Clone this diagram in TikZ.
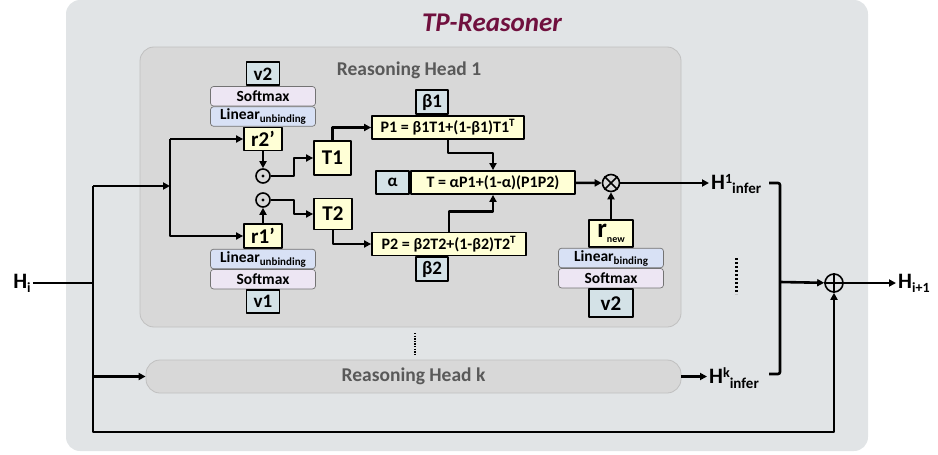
\documentclass[tikz,border=0pt]{standalone}
\usepackage{fontspec}
\setmainfont{Carlito}
\usetikzlibrary{arrows.meta,positioning}

\definecolor{outerbg}{RGB}{225,228,230}
\definecolor{headbg}{RGB}{216,216,216}
\definecolor{headln}{RGB}{192,192,192}
\definecolor{varfill}{RGB}{255,255,214}
\definecolor{parfill}{RGB}{212,226,231}
\definecolor{smaxfill}{RGB}{237,230,243}
\definecolor{linfill}{RGB}{216,225,245}
\definecolor{titlecol}{RGB}{112,16,62}
\definecolor{headtxt}{RGB}{89,89,89}

% small lowered / raised text
\newcommand{\lowsub}[2][11]{\raisebox{-0.4ex}{\fontsize{#1}{#1}\selectfont #2}}
\newcommand{\hisup}[2][13]{\raisebox{0.6ex}{\fontsize{#1}{#1}\selectfont #2}}

\tikzset{
  wire/.style={line width=2.6pt},
  var/.style={draw,line width=1.8pt,fill=varfill,inner sep=0pt,font=\fontsize{21}{21}\selectfont\bfseries},
  par/.style={draw,line width=1.8pt,fill=parfill,inner sep=0pt,font=\fontsize{19}{19}\selectfont\bfseries},
  layer/.style={draw=black!55,line width=0.7pt,rounded corners=3pt,inner sep=0pt,
    minimum width=105pt,minimum height=19.5pt,font=\fontsize{15.5}{15.5}\selectfont\bfseries},
  eqn/.style={draw,line width=1.8pt,fill=varfill,inner sep=0pt,minimum height=23pt,
    font=\fontsize{16}{16}\selectfont\bfseries},
  op/.style={draw,circle,line width=1.6pt,inner sep=0pt},
  headbox/.style={draw=headln,line width=0.8pt,fill=headbg,rounded corners=14pt},
  headname/.style={text=headtxt,font=\fontsize{19.5}{19.5}\selectfont\bfseries},
  hlbl/.style={inner sep=2pt,font=\fontsize{22}{22}\selectfont\bfseries},
}

\begin{document}
\begin{tikzpicture}[x=1pt,y=-1pt,>={Triangle[length=7pt,width=7pt]},line join=round]
\useasboundingbox (0,0) rectangle (938,455);

% panels
\fill[outerbg,rounded corners=14pt] (66,0) rectangle (868,451);
\node[text=titlecol,font=\fontsize{27}{27}\selectfont\bfseries\itshape] (title) at (492,23) {TP-Reasoner};
\node[headbox,minimum width=541pt,minimum height=280pt] (head1) at (410.5,187) {};
\node[headname] (head1name) at (409,70) {Reasoning Head 1};
\node[headbox,headname,minimum width=535pt,minimum height=33pt] (headk) at (413.5,376.5) {Reasoning Head k};
\draw[line width=1.3pt,dash pattern=on 1.3pt off 1.3pt] (415,333) -- (415,356);

% unbinding, top
\node[var,minimum width=38pt,minimum height=23pt] (r2) at (263,139) {r2’};
\node[layer,fill=linfill,above=0pt of r2] (lina) {Linear\lowsub{unbinding}};
\node[layer,fill=smaxfill,above=0pt of lina] (smaxa) {Softmax};
\node[par,minimum width=33pt,minimum height=23pt,above=0pt of smaxa] (v2a) {v2};

% unbinding, bottom
\node[var,minimum width=38pt,minimum height=24pt] (r1) at (263,236) {r1’};
\node[layer,fill=linfill,below=0pt of r1] (linb) {Linear\lowsub{unbinding}};
\node[layer,fill=smaxfill,below=0pt of linb] (smaxb) {Softmax};
\node[par,minimum width=33pt,minimum height=23pt,below=0pt of smaxb] (v1) {v1};

\node[op,minimum size=14pt] (dot2) at (263,176) {};
\node[op,minimum size=14pt] (dot1) at (263,200) {};
\fill (dot2) circle (1.7) (dot1) circle (1.7);

\node[var,minimum width=37pt,minimum height=34pt] (T1) at (332.5,158) {T1};
\node[var,minimum width=38pt,minimum height=31pt] (T2) at (333,214) {T2};

% relation matrices
\node[eqn,minimum width=152pt] (P1) at (448,127.5) {P1 = β1T1+(1-β1)T1\textsuperscript{T}};
\node[par,minimum width=32pt,minimum height=24pt,above=0pt of P1.north,xshift=-16pt] (b1) {β1};
\node[eqn,minimum width=154pt] (P2) at (449,244) {P2 = β2T2+(1-β2)T2\textsuperscript{T}};
\node[par,minimum width=32pt,minimum height=24pt,below=0pt of P2.south,xshift=-17pt] (b2) {β2};
\node[eqn,minimum width=164pt] (T) at (493,182.5) {T = αP1+(1-α)(P1P2)};
\node[par,minimum width=33pt,minimum height=23pt,left=0pt of T,font=\fontsize{17}{17}\selectfont\bfseries] (alpha) {α};

% binding
\node[op,minimum size=17pt] (mul) at (611,183) {};
\draw[line width=1.6pt] (mul.north west) -- (mul.south east) (mul.north east) -- (mul.south west);
\node[var,minimum width=44pt,minimum height=27pt] (rnew) at (611,233.5) {\fontsize{27}{27}\selectfont r\lowsub[10]{new}};
\node[layer,fill=linfill,below=0pt of rnew] (linc) {Linear\lowsub{binding}};
\node[layer,fill=smaxfill,below=0pt of linc] (smaxc) {Softmax};
\node[par,minimum width=44pt,minimum height=28pt,below=0pt of smaxc,font=\fontsize{21}{21}\selectfont\bfseries] (v2b) {v2};

% outputs
\node[hlbl] (Hi) at (22,283) {H\lowsub[14]{i}};
\node[hlbl,anchor=west] (H1) at (709,184) {H\hisup[14]{1}\lowsub[15]{infer}};
\node[hlbl,anchor=west] (Hk) at (707,378) {H\hisup[14]{k}\lowsub[15]{infer}};
\node[op,minimum size=18pt] (plus) at (834,283) {};
\draw[line width=1.6pt] (plus.north) -- (plus.south) (plus.west) -- (plus.east);
\node[hlbl,anchor=west] (Hnext) at (896,283) {H\lowsub[14]{i+1}};
\draw[line width=3pt,dash pattern=on 2pt off 2pt] (736,258) -- (736,294);

\coordinate (jtop) at (93,186);
\coordinate (jbot) at (93,432);
\coordinate (split) at (170,186);
\coordinate (brt) at (780,183);
\coordinate (brb) at (780,374);
\coordinate (brm) at (780,282);

% wiring
\draw[wire] (Hi) -- (Hi -| jtop);
\draw[wire,->] (jtop) -- (jbot) -- (jbot -| plus) -- (plus);
\draw[wire,->] (jtop) -- (split);
\draw[wire,->] (split |- r2) -- (r2);
\draw[wire,->] (split |- r2) -- (split |- r1) -- (r1);
\draw[wire,->] (jbot |- headk) -- (headk);
\draw[wire,->] (r2) -- (dot2);
\draw[wire,->] (r1) -- (dot1);
\draw[wire,->] (dot2.east) -- ++(23,0) |- (T1);
\draw[wire,->] (dot1.east) -- ++(23,0) |- (T2);
\draw[wire,->] (T1.north) |- (P1);
\draw[wire,->] (T2.south) |- (P2);
\draw[wire,->] (P1.south) -- ++(0,13) -| (T.north);
\draw[wire,->] (P2.north) -- ++(0,-20) -| (T.south);
\draw[wire,->] (T) -- (mul);
\draw[wire,->] (rnew) -- (mul);
\draw[wire,->] (mul) -- (mul -| H1.west);
\draw[wire,->] (headk) -- (headk -| Hk.west);
\draw[wire,rounded corners=2pt] ([xshift=-11pt]brt) -- (brt) -- (brb) -- ([xshift=-11pt]brb);
\draw[wire,->] (brm) -- (plus);
\draw[wire,->] (plus) -- (plus -| Hnext.west);
\end{tikzpicture}
\end{document}
